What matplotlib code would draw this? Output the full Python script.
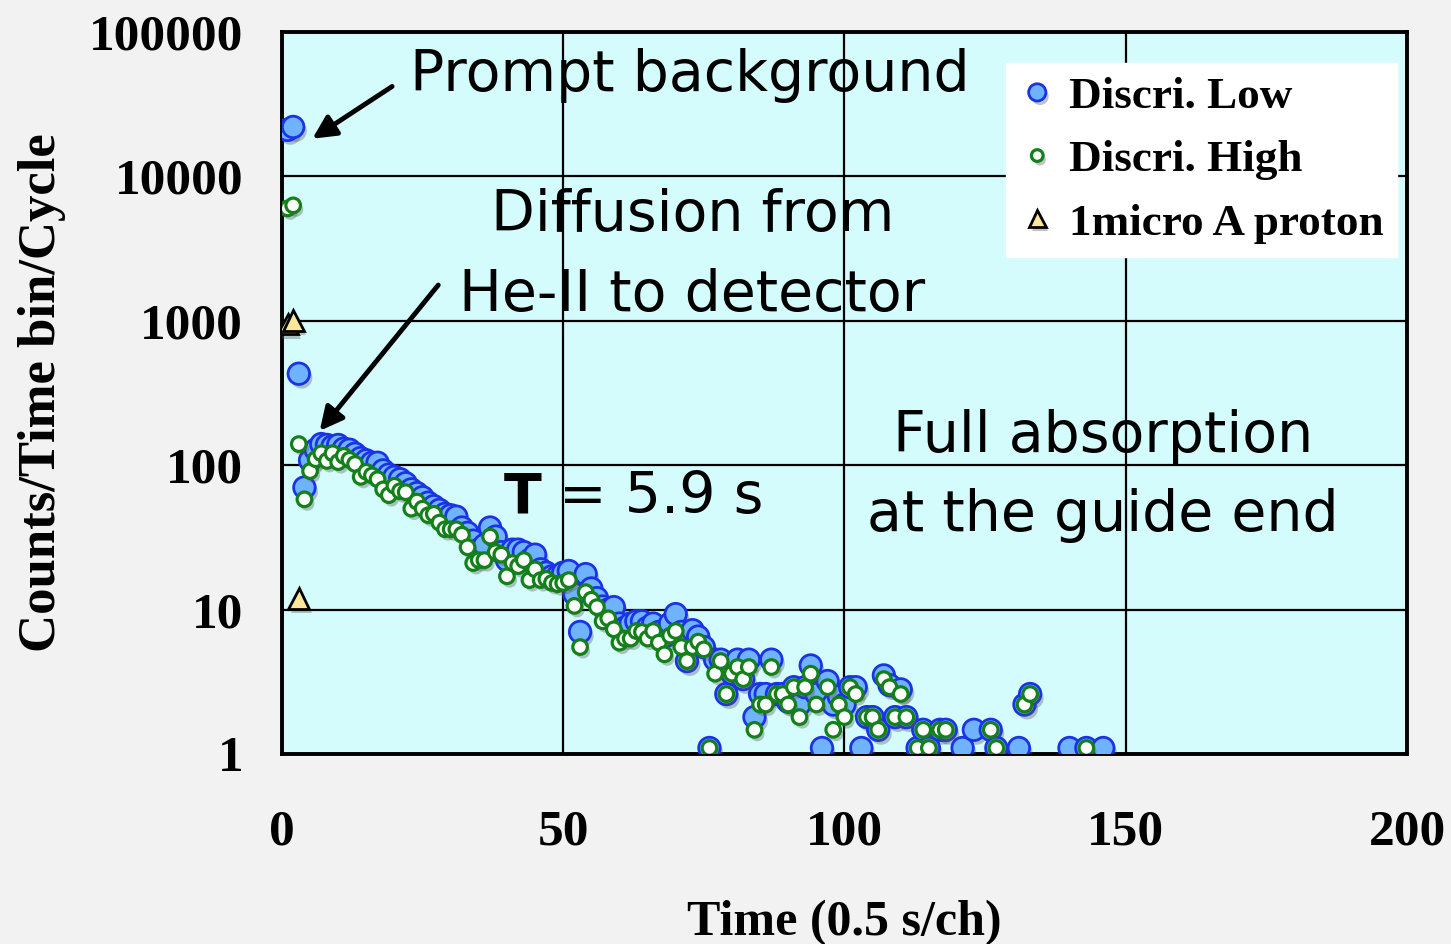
import numpy as np
import matplotlib
matplotlib.use('Agg')
import matplotlib.pyplot as plt
import matplotlib.patheffects as pe

# Discri. Low (blue circles)
x_low = [1, 2, 3, 4, 5, 6, 7, 8, 9, 10, 11, 12, 13, 14, 15, 16, 17, 18, 19, 20,
         21, 22, 23, 24, 25, 26, 27, 28, 29, 30, 31, 32, 33, 34, 35, 36, 37, 38, 39, 40,
         41, 42, 43, 44, 45, 46, 47, 48, 49, 50, 51, 52, 53, 54, 55, 56, 57, 58, 59, 60,
         61, 62, 63, 64, 65, 66, 67, 68, 69, 70, 71, 72, 73, 74, 75, 76, 77, 78, 79, 80,
         81, 82, 83, 84, 85, 86, 87, 88, 89, 90, 91, 92, 93, 94, 95, 96, 97, 98, 99, 100,
         101, 102, 103, 104, 105, 106, 107, 108, 109, 110, 111, 113, 114, 115, 117, 118,
         121, 123, 126, 127, 131, 132, 133, 140, 143, 146]
low = [21000, 22000, 430, 70, 108, 128, 140, 138, 135, 138, 130, 128, 120, 112, 108, 104, 104, 92, 86, 83,
       80, 75, 68, 64, 60, 55, 52, 49, 46, 45, 44, 37, 34, 30, 26, 28, 37, 32, 25, 22,
       26, 26, 25, 22, 24, 19, 18, 17, 17, 18, 18.5, 12.8, 7.0, 17.6, 14, 12, 10.5, 10, 10.4, 8,
       7.5, 8, 8.3, 8.3, 7.5, 8, 7, 6.5, 8, 9.3, 7, 4.4, 7.2, 6.5, 5.5, 1.1, 4.5, 4.5, 2.6, 3.6,
       4.5, 3.3, 4.5, 1.8, 2.6, 2.6, 4.5, 2.6, 2.6, 2.3, 2.9, 2.2, 2.9, 4.1, 2.6, 1.1, 3.2, 2.2, 2.5, 2.2,
       2.9, 2.9, 1.1, 1.8, 1.8, 1.47, 3.5, 3.0, 1.8, 2.8, 1.8, 1.1, 1.47, 1.1, 1.47, 1.47,
       1.1, 1.47, 1.47, 1.1, 1.1, 2.2, 2.6, 1.1, 1.1, 1.1]

# Discri. High (green open circles)
x_high = [1, 2, 3, 4, 5, 6, 7, 8, 9, 10, 11, 12, 13, 14, 15, 16, 17, 18, 19, 20,
          21, 22, 23, 24, 25, 26, 27, 28, 29, 30, 31, 32, 33, 34, 35, 36, 37, 38, 39, 40,
          41, 42, 43, 44, 45, 46, 47, 48, 49, 50, 51, 52, 53, 54, 55, 56, 57, 58, 59, 60,
          61, 62, 63, 64, 65, 66, 67, 68, 69, 70, 71, 72, 73, 74, 75, 76, 77, 78, 79, 80,
          81, 82, 83, 84, 85, 86, 87, 88, 89, 90, 91, 92, 93, 94, 95, 97, 98, 99, 100,
          101, 102, 104, 105, 106, 107, 108, 109, 110, 111, 113, 114, 115, 117, 118,
          126, 127, 132, 133, 143]
high = [6000, 6300, 140, 58, 91, 110, 121, 107, 121, 105, 116, 109, 102, 83, 90, 85, 80, 68, 62, 72,
        66, 65, 50, 56, 50, 45, 46, 40, 36, 36, 36, 33, 27, 21, 22, 22, 32, 25, 24, 17,
        21, 20, 22, 16, 19, 16, 16.3, 15.3, 15, 15.3, 16, 10.6, 5.5, 13.2, 11.7, 10.4, 8.3, 8.7, 7.3, 5.9,
        6.3, 6.3, 7.1, 7.0, 6.3, 7.1, 5.9, 4.9, 6.6, 7.1, 5.5, 4.4, 5.5, 6.0, 5.3, 1.1, 3.6, 4.4, 2.6, 3.6,
        4.0, 3.3, 4.0, 1.47, 2.2, 2.2, 4.0, 2.6, 2.6, 2.2, 2.9, 1.8, 2.9, 3.6, 2.2, 2.9, 1.47, 2.2, 1.8,
        2.9, 2.6, 1.8, 1.8, 1.47, 3.3, 2.9, 1.8, 2.6, 1.8, 1.1, 1.47, 1.1, 1.47, 1.47,
        1.47, 1.1, 2.2, 2.6, 1.1]

# 1micro A proton (triangles)
x_proton = [1, 2, 3]
proton = [950, 1000, 12]

fig = plt.figure(figsize=(14.51, 9.44), dpi=100, facecolor='#f2f2f2')
ax = fig.add_axes([0.1943, 0.2013, 0.7754, 0.7648])
ax.set_facecolor('#d4fcfd')

shadow = [pe.SimplePatchShadow(offset=(2, -3), shadow_rgbFace='#555555', alpha=0.35), pe.Normal()]

ax.plot(x_low, low, 'o', ms=15.5, mfc='#6fb3ff', mec='#1a33e6', mew=2,
        label='Discri. Low', path_effects=shadow, zorder=3)
ax.plot(x_high, high, 'o', ms=10.5, mfc='white', mec='#138019', mew=2.3,
        label='Discri. High', path_effects=shadow, zorder=4)
ax.plot(x_proton, proton, '^', ms=15, mfc='#fbe69b', mec='black', mew=2,
        label='1micro A proton', path_effects=shadow, zorder=5)

ax.set_yscale('log')
ax.set_xlim(0, 200)
ax.set_ylim(1, 100000)
ax.set_xticks([0, 50, 100, 150, 200])
ax.set_yticks([1, 10, 100, 1000, 10000, 100000])
ax.set_yticklabels(['1', '10', '100', '1000', '10000', '100000'])
ax.minorticks_off()
ax.tick_params(length=0, labelsize=37)
ax.tick_params(axis='y', pad=28)
ax.tick_params(axis='x', pad=40)
for lab in ax.get_xticklabels() + ax.get_yticklabels():
    lab.set_fontfamily('Liberation Serif')
    lab.set_fontweight('bold')

ax.grid(True, color='black', linewidth=1.6)
ax.set_axisbelow(True)
for s in ax.spines.values():
    s.set_linewidth(2.8)

ax.set_xlabel('Time (0.5 s/ch)', fontsize=36, fontweight='bold', family='Liberation Serif', labelpad=32)
ax.set_ylabel('Counts/Time bin/Cycle', fontsize=38, fontweight='bold', family='Liberation Serif', labelpad=16)

leg = ax.legend(loc='upper right', bbox_to_anchor=(0.991, 0.957), borderaxespad=0, markerscale=0.8,
                prop={'family': 'Liberation Serif', 'weight': 'bold', 'size': 32.5},
                frameon=True, fancybox=False, handlelength=0.8, handletextpad=0.3, labelspacing=0.5,
                borderpad=0.3)
leg.get_frame().set_facecolor('white')
leg.get_frame().set_edgecolor('white')
leg.get_frame().set_alpha(1)

hand = dict(family='DejaVu Sans', fontsize=41, ha='center', va='center', color='black')
ax.text(72.5, 50000, 'Prompt background', **hand)
ax.text(73, 5400, 'Diffusion from', **hand)
ax.text(73, 1500, 'He-II to detector', **hand)
ax.text(42.7, 60, 'T', family='DejaVu Sans', fontsize=40, fontweight='bold', ha='center', va='center')
ax.text(67.4, 60, '= 5.9 s', **hand)
ax.text(146, 157, 'Full absorption', **hand)
ax.text(146, 45, 'at the guide end', **hand)

ax.annotate('', xy=(5, 17800), xytext=(20, 43000),
            arrowprops=dict(arrowstyle='-|>', color='black', lw=3.5, mutation_scale=35))
ax.annotate('', xy=(6.4, 167), xytext=(28.1, 1830),
            arrowprops=dict(arrowstyle='-|>', color='black', lw=3.5, mutation_scale=35))

fig.savefig('out.png', dpi=100, facecolor=fig.get_facecolor())
